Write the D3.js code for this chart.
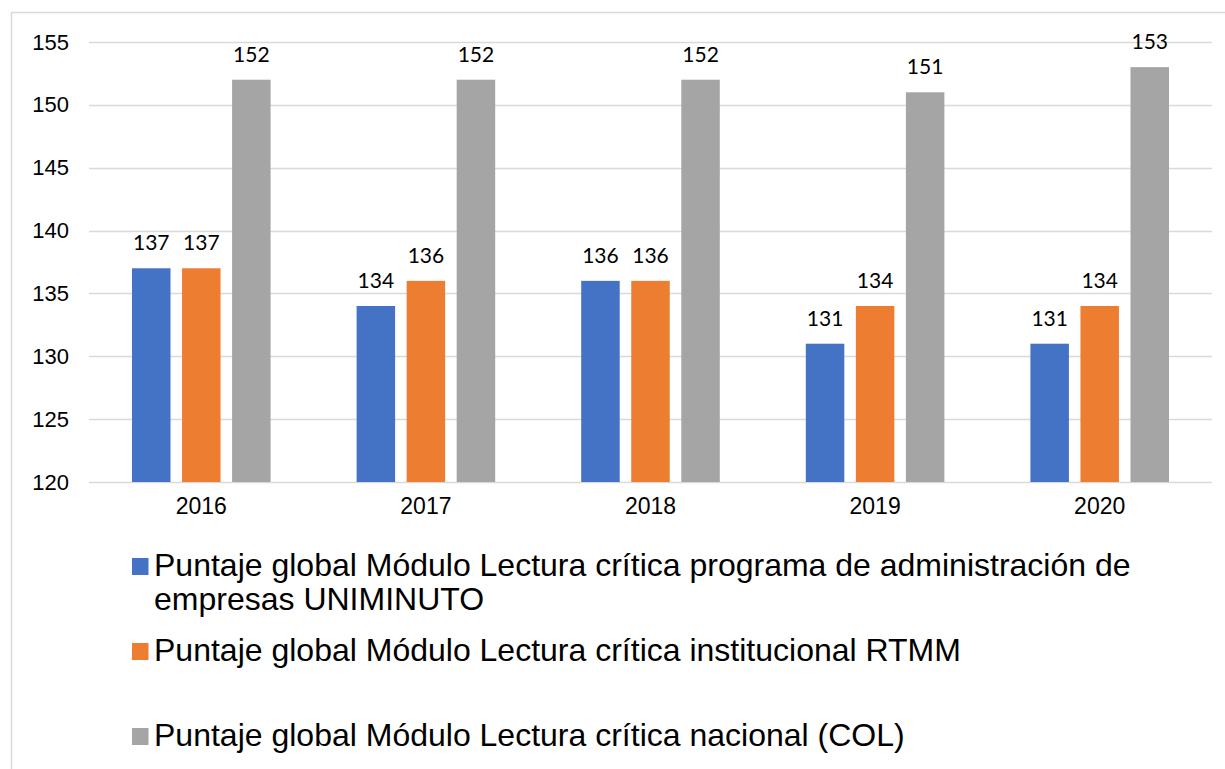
<!DOCTYPE html>
<html>
<head>
<meta charset="utf-8">
<script src="https://cdn.jsdelivr.net/npm/d3@7"></script>
<style>
  body { margin: 0; background: #fff; }
  #chart { width: 1225px; height: 769px; overflow: hidden; }
</style>
</head>
<body>
<div id="chart"></div>
<script>
// ------------- Data ----------------- //
const years = ['2016', '2017', '2018', '2019', '2020'];
const seriesNames = [
  'Puntaje global Módulo Lectura crítica programa de administración de',
  'Puntaje global Módulo Lectura crítica institucional RTMM',
  'Puntaje global Módulo Lectura crítica nacional (COL)'
];
const programa = [137, 134, 136, 131, 131];
const institucional = [137, 136, 136, 134, 134];
const nacional = [152, 152, 152, 151, 153];
const yTicks = [120, 125, 130, 135, 140, 145, 150, 155];

const colors = ['#4472C4', '#ED7D31', '#A5A5A5'];
const allSeries = [programa, institucional, nacional];

const W = 1225, H = 769;
const margin = { top: 42, left: 89, right: 13, bottom: 287 };
const width = W - margin.left - margin.right;
const height = H - margin.top - margin.bottom;

const svg = d3.select('#chart').append('svg')
  .attr('width', W)
  .attr('height', H);

// outer chart border (runs off the right/bottom edge)
svg.append('rect')
  .attr('x', 11.5).attr('y', 12.5)
  .attr('width', 1400).attr('height', 1000)
  .attr('fill', 'none')
  .attr('stroke', '#d9d9d9')
  .attr('stroke-width', 1.5);

const g = svg.append('g')
  .attr('transform', 'translate(' + margin.left + ',' + margin.top + ')');

const x = d3.scaleBand().domain(years).range([0, width]);
const y = d3.scaleLinear().domain([120, 155]).range([height, 0]);

// series offsets inside each group (bar 38.5px, step 50px)
const barW = x.bandwidth() * 0.1714;
const step = barW * 1.3;
const xs = d3.scaleLinear().domain([0, 2]).range([-step, step]);

// gridlines
g.append('g')
  .selectAll('line')
  .data(yTicks)
  .join('line')
  .attr('x1', 0).attr('x2', width)
  .attr('y1', d => Math.round(y(d)) + 0.5)
  .attr('y2', d => Math.round(y(d)) + 0.5)
  .attr('stroke', '#d9d9d9')
  .attr('stroke-width', 1.5);

// y axis labels
const yAxis = d3.axisLeft(y).tickValues(yTicks).tickSize(0).tickPadding(20);
g.append('g')
  .call(yAxis)
  .call(s => s.select('.domain').remove())
  .selectAll('text')
  .attr('font-family', 'Liberation Sans, Arial, sans-serif')
  .attr('font-size', 22)
  .attr('fill', '#000');

// x axis labels
const xAxis = d3.axisBottom(x).tickSize(0).tickPadding(16);
g.append('g')
  .attr('transform', 'translate(0,' + height + ')')
  .call(xAxis)
  .call(s => s.select('.domain').remove())
  .selectAll('text')
  .attr('font-family', 'Liberation Sans, Arial, sans-serif')
  .attr('font-size', 23)
  .attr('fill', '#000');

// bars + data labels
allSeries.forEach(function (vals, si) {
  const grp = g.append('g');
  grp.selectAll('rect')
    .data(vals)
    .join('rect')
    .attr('x', (d, i) => x(years[i]) + x.bandwidth() / 2 + xs(si) - barW / 2)
    .attr('y', d => y(d))
    .attr('width', barW)
    .attr('height', d => height - y(d))
    .attr('fill', colors[si]);

  grp.selectAll('text')
    .data(vals)
    .join('text')
    .attr('x', (d, i) => x(years[i]) + x.bandwidth() / 2 + xs(si))
    .attr('y', d => y(d) - 18)
    .attr('text-anchor', 'middle')
    .attr('font-family', 'Lato, Carlito, sans-serif')
    .attr('font-size', 21)
    .attr('fill', '#000')
    .text(d => d);
});

// legend
const legendRows = [
  { color: colors[0], lines: [seriesNames[0], 'empresas UNIMINUTO'], y: 576 },
  { color: colors[1], lines: [seriesNames[1]], y: 661 },
  { color: colors[2], lines: [seriesNames[2]], y: 746 }
];
const legend = svg.append('g');
legendRows.forEach(function (row) {
  legend.append('rect')
    .attr('x', 132)
    .attr('y', row.y - 18)
    .attr('width', 16.5)
    .attr('height', 17)
    .attr('fill', row.color);
  const t = legend.append('text')
    .attr('x', 154)
    .attr('y', row.y)
    .attr('font-family', 'Liberation Sans, Arial, sans-serif')
    .attr('font-size', 32)
    .attr('fill', '#000');
  row.lines.forEach(function (line, li) {
    t.append('tspan')
      .attr('x', 154)
      .attr('dy', li === 0 ? 0 : 34)
      .text(line);
  });
});
</script>
</body>
</html>
